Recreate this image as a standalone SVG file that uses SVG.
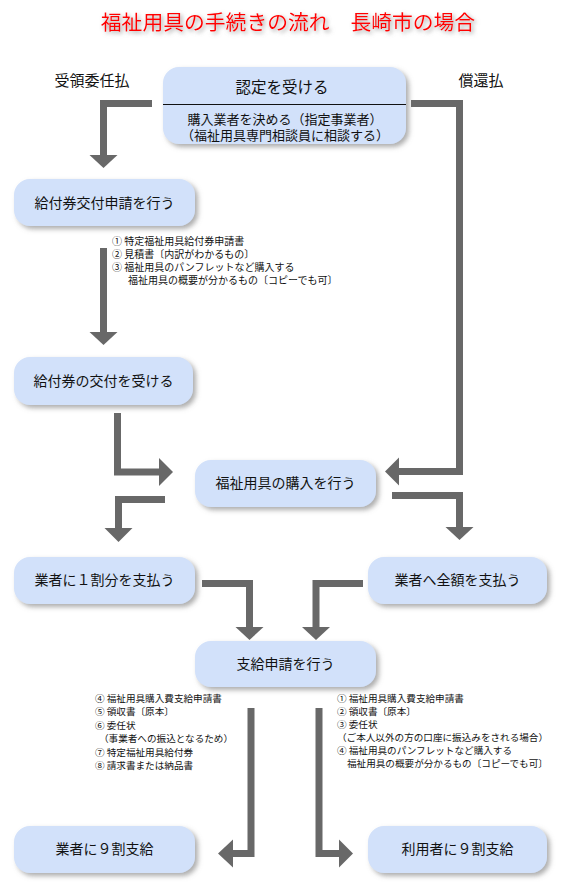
<svg xmlns="http://www.w3.org/2000/svg" width="565" height="889" viewBox="0 0 565 889">
<defs>
<filter id="sh" x="-10%" y="-20%" width="130%" height="150%">
<feDropShadow dx="3" dy="3" stdDeviation="2.5" flood-color="#777" flood-opacity="0.6"/>
</filter>
<filter id="tsh" x="-10%" y="-50%" width="120%" height="200%">
<feDropShadow dx="2" dy="2" stdDeviation="2" flood-color="#888" flood-opacity="0.8"/>
</filter>
<style>
.box{fill:#d2e1fa;filter:url(#sh);}
.t{font-family:"Noto Sans CJK JP","Noto Sans CJK SC",sans-serif;fill:#111;}
.n{font-size:14px;text-anchor:middle;}
.lab{font-size:15px;text-anchor:middle;}
.s1{font-size:10px;}
.s2{font-size:9.6px;}
.c{fill:none;stroke:#686868;stroke-width:7;stroke-linejoin:miter;}
.h{fill:#686868;}
</style>
</defs>
<rect width="565" height="889" fill="#fff"/>
<text class="t" x="288" y="30" font-size="20.8" text-anchor="middle" fill="#f00" style="fill:#f00" filter="url(#tsh)">福祉用具の手続きの流れ　長崎市の場合</text>
<text class="t lab" x="92" y="86">受領委任払</text>
<text class="t lab" x="481" y="86">償還払</text>
<g id="connectors">
<path class="c" d="M152,103.5 H103.5 V156"/>
<polygon class="h" points="89.5,155 117.5,155 103.5,168"/>
<path class="c" d="M411,103.5 H459.5 V471.5 H398"/>
<polygon class="h" points="399,457.5 399,485.5 385,471.5"/>
<path class="c" d="M103.5,248 V333"/>
<polygon class="h" points="89.5,332 117.5,332 103.5,345"/>
<path class="c" d="M117.5,413 V472 H160"/>
<polygon class="h" points="159,458 159,486 173,472"/>
<path class="c" d="M165,499.5 H118.5 V529"/>
<polygon class="h" points="104.5,528 132.5,528 118.5,542"/>
<path class="c" d="M392,495.5 H459.5 V528"/>
<polygon class="h" points="445.5,527 473.5,527 459.5,540"/>
<path class="c" d="M202,583.5 H249.5 V628"/>
<polygon class="h" points="235.5,627 263.5,627 249.5,640"/>
<path class="c" d="M363,583.5 H316 V628"/>
<polygon class="h" points="302,627 330,627 316,640"/>
<path class="c" d="M251,708 V853.5 H232"/>
<polygon class="h" points="233,839.5 233,867.5 218,853.5"/>
<path class="c" d="M319,708 V853.5 H340"/>
<polygon class="h" points="339,839.5 339,867.5 353,853.5"/>
</g>
<g id="n1">
<rect class="box" x="163" y="67" width="243" height="77" rx="16"/>
<line x1="163" y1="104.5" x2="406" y2="104.5" stroke="#111" stroke-width="1"/>
<text class="t" x="282" y="93" font-size="15.5" text-anchor="middle">認定を受ける</text>
<text class="t" x="285" y="124" font-size="13" text-anchor="middle">購入業者を決める（指定事業者）</text>
<text class="t" x="285" y="140" font-size="13" text-anchor="middle">（福祉用具専門相談員に相談する）</text>
</g>
<g id="n2">
<rect class="box" x="14" y="179" width="181" height="47" rx="16"/>
<text class="t n" x="104.5" y="208">給付券交付申請を行う</text>
</g>
<g id="notes1">
<text class="t s1" x="112" y="245">① 特定福祉用具給付券申請書</text>
<text class="t s1" x="112" y="258">② 見積書〔内訳がわかるもの〕</text>
<text class="t s1" x="112" y="271">③ 福祉用具のパンフレットなど購入する</text>
<text class="t s1" x="128" y="284">福祉用具の概要が分かるもの〔コピーでも可〕</text>
</g>
<g id="n3">
<rect class="box" x="14" y="357" width="179" height="48" rx="16"/>
<text class="t n" x="103.5" y="386">給付券の交付を受ける</text>
</g>
<g id="n4">
<rect class="box" x="195" y="460" width="181" height="47" rx="16"/>
<text class="t n" x="285.5" y="488">福祉用具の購入を行う</text>
</g>
<g id="n5">
<rect class="box" x="14" y="557" width="181" height="47" rx="16"/>
<text class="t n" x="104.5" y="585">業者に１割分を支払う</text>
</g>
<g id="n6">
<rect class="box" x="368" y="557" width="179" height="47" rx="16"/>
<text class="t n" x="457.5" y="585">業者へ全額を支払う</text>
</g>
<g id="n7">
<rect class="box" x="195" y="641" width="181" height="46" rx="16"/>
<text class="t n" x="285.5" y="669">支給申請を行う</text>
</g>
<g id="notes2">
<text class="t s2" x="95" y="701.5">④ 福祉用具購入費支給申請書</text>
<text class="t s2" x="95" y="715">⑤ 領収書〔原本〕</text>
<text class="t s2" x="95" y="729">⑥ 委任状</text>
<text class="t s2" x="99" y="742">（事業者への振込となるため）</text>
<text class="t s2" x="95" y="755.5">⑦ 特定福祉用具給付券</text>
<text class="t s2" x="95" y="768.5">⑧ 請求書または納品書</text>
</g>
<g id="notes3">
<text class="t s2" x="337" y="701.5">① 福祉用具購入費支給申請書</text>
<text class="t s2" x="337" y="715">② 領収書〔原本〕</text>
<text class="t s2" x="337" y="728">③ 委任状</text>
<text class="t s2" x="337" y="741">（ご本人以外の方の口座に振込みをされる場合）</text>
<text class="t s2" x="337" y="754">④ 福祉用具のパンフレットなど購入する</text>
<text class="t s2" x="347" y="767">福祉用具の概要が分かるもの〔コピーでも可〕</text>
</g>
<g id="n8">
<rect class="box" x="14" y="826" width="181" height="47" rx="16"/>
<text class="t n" x="104.5" y="854">業者に９割支給</text>
</g>
<g id="n9">
<rect class="box" x="368" y="826" width="179" height="47" rx="16"/>
<text class="t n" x="457.5" y="854">利用者に９割支給</text>
</g>
</svg>
